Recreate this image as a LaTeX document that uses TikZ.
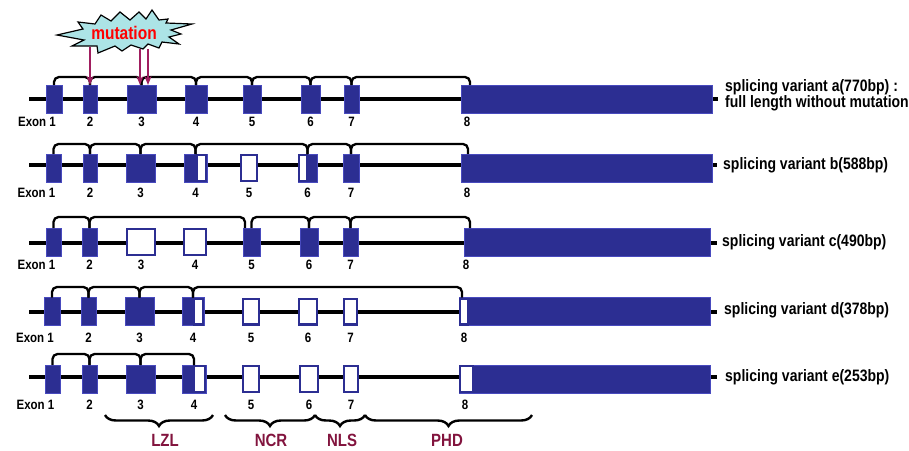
\documentclass[tikz,border=0pt]{standalone}
\usepackage{fontspec}
\usepackage{graphicx}
\setmainfont{Liberation Sans}
\usetikzlibrary{calc,decorations.pathreplacing,arrows.meta}
\definecolor{exblue}{RGB}{44,46,146}
\definecolor{exedge}{RGB}{72,74,190}
\definecolor{mutarrow}{RGB}{160,30,95}
\definecolor{domred}{RGB}{130,20,62}
\definecolor{burstfill}{RGB}{172,228,230}
\newcommand\tallT[1]{\scalebox{1}[1.18]{#1}}
\begin{document}
\begin{tikzpicture}[x=1pt,y=-1pt,
  exf/.style={rectangle,inner sep=0pt,outer sep=0pt,fill=exblue,draw=exedge,line width=0.8pt,minimum height=28pt},
  exo/.style={rectangle,inner sep=0pt,outer sep=0pt,fill=white,draw=exblue,line width=2.2pt,minimum height=25.8pt},
  hole/.style={fill=white,draw=exblue,line width=2.2pt},
  backbone/.style={line width=4pt,black},
  splice/.style={draw=black,line width=2.3pt,rounded corners=5pt},
  num/.style={font=\fontsize{11.5}{12}\selectfont\bfseries,inner sep=0pt},
  vlab/.style={font=\fontsize{14}{15}\selectfont\bfseries,inner sep=0pt,anchor=west},
  domlab/.style={font=\fontsize{15}{16}\selectfont\bfseries,text=domred,inner sep=0pt},
  dombrace/.style={draw=black,line width=2.4pt,decorate,decoration={brace,mirror,amplitude=11pt}},
  mutarr/.style={draw=mutarrow,line width=2.6pt,-{Stealth[length=9pt,width=7pt]}},
  burst/.style={fill=burstfill,draw=black,line width=1.2pt,line join=miter}
]
\useasboundingbox (0,0) rectangle (909,450);

% backbones
\coordinate (aL) at (29,99);  \coordinate (aR) at (718,99);
\coordinate (bL) at (29,165); \coordinate (bR) at (717,165);
\coordinate (cL) at (29,243); \coordinate (cR) at (717,243);
\coordinate (dL) at (29,312); \coordinate (dR) at (717,312);
\coordinate (eL) at (29,377); \coordinate (eR) at (717,377);
\draw[backbone] (aL) -- (aR);
\draw[backbone] (bL) -- (bR);
\draw[backbone] (cL) -- (cR);
\draw[backbone] (dL) -- (dR);
\draw[backbone] (eL) -- (eR);

% row a
\node[exf,minimum width=16pt] (a1) at (54,99) {};
\node[exf,minimum width=14pt] (a2) at (90,99) {};
\node[exf,minimum width=29pt] (a3) at (141.5,99) {};
\node[exf,minimum width=22pt] (a4) at (196,99) {};
\node[exf,minimum width=18pt] (a5) at (252,99) {};
\node[exf,minimum width=19pt] (a6) at (310.5,99) {};
\node[exf,minimum width=15pt] (a7) at (351.5,99) {};
\node[exf,minimum width=251pt] (a8) at (586.5,99) {};

% row b
\node[exf,minimum width=15pt] (b1) at (53.5,168) {};
\node[exf,minimum width=14pt] (b2) at (90,168) {};
\node[exf,minimum width=29pt] (b3) at (140.5,168) {};
\node[exf,minimum width=23pt] (b4) at (195.5,168) {};
\filldraw[hole] ($(b4.north east)+(-10,1.1)$) rectangle ($(b4.south east)+(-1.1,-1.1)$);
\node[exo,minimum width=16pt] (b5) at (249,168) {};
\node[exf,minimum width=19pt] (b6) at (307.5,168) {};
\filldraw[hole] ($(b6.north west)+(1.1,1.1)$) rectangle ($(b6.south west)+(9,-1.1)$);
\node[exf,minimum width=16pt] (b7) at (351,168) {};
\node[exf,minimum width=251pt] (b8) at (586.5,168) {};

% row c
\node[exf,minimum width=15pt] (c1) at (53.5,242) {};
\node[exf,minimum width=15pt] (c2) at (89.5,242) {};
\node[exo,minimum width=28pt] (c3) at (141,242) {};
\node[exo,minimum width=22pt] (c4) at (195,242) {};
\node[exf,minimum width=17pt] (c5) at (251.5,242) {};
\node[exf,minimum width=18pt] (c6) at (309,242) {};
\node[exf,minimum width=15pt] (c7) at (350.5,242) {};
\node[exf,minimum width=246pt] (c8) at (587,242) {};

% row d
\node[exf,minimum width=16pt] (d1) at (52,311.5) {};
\node[exf,minimum width=15pt] (d2) at (88.5,311.5) {};
\node[exf,minimum width=29pt] (d3) at (139.5,311.5) {};
\node[exf,minimum width=22pt] (d4) at (193,311.5) {};
\filldraw[hole] ($(d4.north east)+(-10,1.1)$) rectangle ($(d4.south east)+(-1.1,-1.1)$);
\node[exo,minimum width=16pt] (d5) at (251,311.5) {};
\node[exo,minimum width=18pt] (d6) at (308,311.5) {};
\node[exo,minimum width=13pt] (d7) at (350.5,311.5) {};
\node[exf,minimum width=251pt] (d8) at (584.5,311.5) {};
\filldraw[hole] ($(d8.north west)+(1.1,1.1)$) rectangle ($(d8.south west)+(9,-1.1)$);

% row e
\node[exf,minimum width=15pt] (e1) at (52.5,379) {};
\node[exf,minimum width=15pt] (e2) at (89.5,379) {};
\node[exf,minimum width=29pt] (e3) at (140.5,379) {};
\node[exf,minimum width=24pt] (e4) at (194,379) {};
\filldraw[hole] ($(e4.north east)+(-12,1.1)$) rectangle ($(e4.south east)+(-1.1,-1.1)$);
\node[exo,minimum width=16pt] (e5) at (251,379) {};
\node[exo,minimum width=18pt] (e6) at (309,379) {};
\node[exo,minimum width=14pt] (e7) at (351,379) {};
\node[exf,minimum width=251pt] (e8) at (584.5,379) {};
\filldraw[hole] ($(e8.north west)+(1.1,1.1)$) rectangle ($(e8.south west)+(14,-1.1)$);

% splice connectors
\draw[splice] (a1.north) -- ++(0,-8) -| (a2.north);
\draw[splice] (a2.north) -- ++(0,-8) -| (a3.north);
\draw[splice] (a3.north) -- ++(0,-8) -| (a4.north);
\draw[splice] (a4.north) -- ++(0,-8) -| (a5.north);
\draw[splice] (a5.north) -- ++(0,-8) -| (a6.north);
\draw[splice] (a6.north) -- ++(0,-8) -| (a7.north);
\draw[splice] (a7.north) -- ++(0,-8) -| ($(a8.north west)+(9,0)$);

\draw[splice] (b1.north) -- ++(0,-10) -| (b2.north);
\draw[splice] (b2.north) -- ++(0,-10) -| (b3.north);
\draw[splice] (b3.north) -- ++(0,-10) -| (b4.north);
\draw[splice] (b4.north) -- ++(0,-10) -| (b6.north);
\draw[splice] (b6.north) -- ++(0,-10) -| (b7.north);
\draw[splice] (b7.north) -- ++(0,-10) -| ($(b8.north west)+(7,0)$);

\draw[splice] (c1.north) -- ++(0,-11) -| (c2.north);
\draw[splice] (c2.north) -- ++(0,-11) -| ($(c5.north west)+(2,0)$);
\draw[splice] (c5.north) -- ++(0,-11) -| (c6.north);
\draw[splice] (c6.north) -- ++(0,-11) -| (c7.north);
\draw[splice] (c7.north) -- ++(0,-11) -| ($(c8.north west)+(6,0)$);

\draw[splice] (d1.north) -- ++(0,-10.5) -| (d2.north);
\draw[splice] (d2.north) -- ++(0,-10.5) -| (d3.north);
\draw[splice] (d3.north) -- ++(0,-10.5) -| (d4.north);
\draw[splice] (d4.north) -- ++(0,-10.5) -| ($(d8.north west)+(3,0)$);

\draw[splice] (e1.north) -- ++(0,-11) -| (e2.north);
\draw[splice] (e2.north) -- ++(0,-11) -| (e3.north);
\draw[splice] (e3.north) -- ++(0,-11) -| (e4.north);

% exon numbers
\node[num,anchor=east,xshift=2pt] (la1) at (a1 |- 0,122) {\tallT{Exon 1}};
\node[num] (la2) at (a2 |- 0,122) {\tallT{2}};
\node[num] (la3) at (a3 |- 0,122) {\tallT{3}};
\node[num] (la4) at (a4 |- 0,122) {\tallT{4}};
\node[num] (la5) at (a5 |- 0,122) {\tallT{5}};
\node[num] (la6) at (a6 |- 0,122) {\tallT{6}};
\node[num] (la7) at (a7 |- 0,122) {\tallT{7}};
\node[num,xshift=6pt] (la8) at (a8.west |- 0,122) {\tallT{8}};

\node[num,anchor=east,xshift=2pt] (lb1) at (b1 |- 0,193) {\tallT{Exon 1}};
\node[num] (lb2) at (b2 |- 0,193) {\tallT{2}};
\node[num] (lb3) at (b3 |- 0,193) {\tallT{3}};
\node[num] (lb4) at (b4 |- 0,193) {\tallT{4}};
\node[num] (lb5) at (b5 |- 0,193) {\tallT{5}};
\node[num] (lb6) at (b6 |- 0,193) {\tallT{6}};
\node[num] (lb7) at (b7 |- 0,193) {\tallT{7}};
\node[num,xshift=6pt] (lb8) at (b8.west |- 0,193) {\tallT{8}};

\node[num,anchor=east,xshift=2pt] (lc1) at (c1 |- 0,265) {\tallT{Exon 1}};
\node[num] (lc2) at (c2 |- 0,265) {\tallT{2}};
\node[num] (lc3) at (c3 |- 0,265) {\tallT{3}};
\node[num] (lc4) at (c4 |- 0,265) {\tallT{4}};
\node[num] (lc5) at (c5 |- 0,265) {\tallT{5}};
\node[num] (lc6) at (c6 |- 0,265) {\tallT{6}};
\node[num] (lc7) at (c7 |- 0,265) {\tallT{7}};
\node[num,xshift=2pt] (lc8) at (c8.west |- 0,265) {\tallT{8}};

\node[num,anchor=east,xshift=2pt] (ld1) at (d1 |- 0,338) {\tallT{Exon 1}};
\node[num] (ld2) at (d2 |- 0,338) {\tallT{2}};
\node[num] (ld3) at (d3 |- 0,338) {\tallT{3}};
\node[num] (ld4) at (d4 |- 0,338) {\tallT{4}};
\node[num] (ld5) at (d5 |- 0,338) {\tallT{5}};
\node[num] (ld6) at (d6 |- 0,338) {\tallT{6}};
\node[num] (ld7) at (d7 |- 0,338) {\tallT{7}};
\node[num,xshift=5pt] (ld8) at (d8.west |- 0,338) {\tallT{8}};

\node[num,anchor=east,xshift=2pt] (le1) at (e1 |- 0,405) {\tallT{Exon 1}};
\node[num] (le2) at (e2 |- 0,405) {\tallT{2}};
\node[num] (le3) at (e3 |- 0,405) {\tallT{3}};
\node[num] (le4) at (e4 |- 0,405) {\tallT{4}};
\node[num] (le5) at (e5 |- 0,405) {\tallT{5}};
\node[num] (le6) at (e6 |- 0,405) {\tallT{6}};
\node[num] (le7) at (e7 |- 0,405) {\tallT{7}};
\node[num,xshift=6pt] (le8) at (e8.west |- 0,405) {\tallT{8}};

% variant labels
\node[vlab] (va) at (725,87) {\tallT{splicing variant a(770bp) :}};
\node[vlab] (va2) at (725,103) {\tallT{full length without mutation}};
\node[vlab] (vb) at (723,165) {\tallT{splicing variant b(588bp)}};
\node[vlab] (vc) at (722,242) {\tallT{splicing variant c(490bp)}};
\node[vlab] (vd) at (724,310) {\tallT{splicing variant d(378bp)}};
\node[vlab] (ve) at (725,377) {\tallT{splicing variant e(253bp)}};

% domain braces
\coordinate (lzlL) at (105,415); \coordinate (lzlR) at (213,415);
\coordinate (ncrL) at (225,415); \coordinate (ncrR) at (315,415);
\coordinate (nlsL) at (315,415); \coordinate (nlsR) at (365,415);
\coordinate (phdL) at (365,415); \coordinate (phdR) at (532,415);
\draw[dombrace] (lzlL) -- (lzlR);
\draw[dombrace] (ncrL) -- (ncrR);
\draw[dombrace] (nlsL) -- (nlsR);
\draw[dombrace] (phdL) -- (phdR);
\node[domlab] (lzl) at (165,440.5) {\tallT{LZL}};
\node[domlab] (ncr) at (271,440.5) {\tallT{NCR}};
\node[domlab] (nls) at (342,440.5) {\tallT{NLS}};
\node[domlab] (phd) at (447,440.5) {\tallT{PHD}};

% mutation burst
\draw[burst] (57,35) -- (83,29) -- (78,22) -- (95,24) -- (101,15) -- (111,21) -- (120,12)
  -- (130,20) -- (139,12) -- (146,19) -- (152,10) -- (159,20) -- (168,19) -- (166,23)
  -- (192,24) -- (171,30) -- (181,34) -- (169,37) -- (179,44) -- (162,42) -- (159,48)
  -- (148,44) -- (143,49) -- (131,45) -- (122,51) -- (115,46) -- (98,53) -- (97,46)
  -- (72,46) -- (84,40) -- cycle;
\node[font=\fontsize{15.5}{16}\selectfont\bfseries,text=red,inner sep=0pt] (mut) at (124,33) {\tallT{mutation}};
\coordinate (m1) at (90,47);
\coordinate (m2) at (140,49);
\coordinate (m3) at (148,49);
\draw[mutarr] (m1) -- (a2.north);
\draw[mutarr] (m2) -- (m2 |- a3.north);
\draw[mutarr] (m3) -- (m3 |- a3.north);
\end{tikzpicture}
\end{document}
